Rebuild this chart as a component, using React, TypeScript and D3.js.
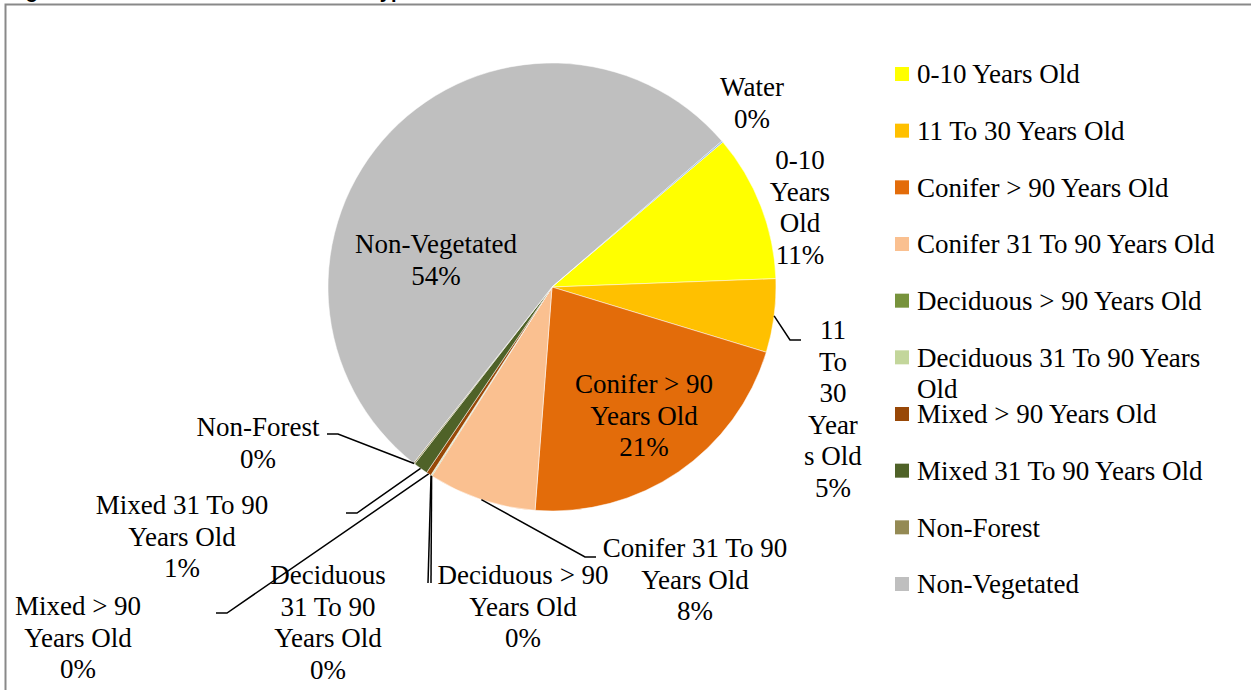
import { useEffect, useRef } from 'react';
import * as d3 from 'd3';

// Datos del gráfico (orden de las porciones, en sentido horario)
const categories = [
  '0-10 Years Old',
  '11 To 30 Years Old',
  'Conifer > 90 Years Old',
  'Conifer 31 To 90 Years Old',
  'Deciduous > 90 Years Old',
  'Deciduous 31 To 90 Years Old',
  'Mixed > 90 Years Old',
  'Mixed 31 To 90 Years Old',
  'Non-Forest',
  'Non-Vegetated',
  'Water',
];
const values = [10.6, 5.3, 21.5, 7.8, 0.05, 0.05, 0.35, 1.05, 0.1, 53.1, 0.1];
const percentLabels = ['11%', '5%', '21%', '8%', '0%', '0%', '0%', '1%', '0%', '54%', '0%'];
const colors = [
  '#FFFF00', '#FFC000', '#E36C0A', '#FAC090', '#77933C',
  '#C3D69B', '#984807', '#4F6228', '#948A54', '#BFBFBF', '#8DB3E2',
];
// Water no aparece en la leyenda
const legendItems = categories.slice(0, 10);
const legendLines = [
  ['0-10 Years Old'],
  ['11 To 30 Years Old'],
  ['Conifer > 90 Years Old'],
  ['Conifer 31 To 90 Years Old'],
  ['Deciduous > 90 Years Old'],
  ['Deciduous 31 To 90 Years', 'Old'],
  ['Mixed > 90 Years Old'],
  ['Mixed 31 To 90 Years Old'],
  ['Non-Forest'],
  ['Non-Vegetated'],
];

// Texto de las etiquetas (líneas, sin el porcentaje)
const labelLines = [
  ['0-10', 'Years', 'Old'],
  ['11', 'To', '30', 'Year', 's Old'],
  ['Conifer > 90', 'Years Old'],
  ['Conifer 31 To 90', 'Years Old'],
  ['Deciduous > 90', 'Years Old'],
  ['Deciduous', '31 To 90', 'Years Old'],
  ['Mixed > 90', 'Years Old'],
  ['Mixed 31 To 90', 'Years Old'],
  ['Non-Forest'],
  ['Non-Vegetated'],
  ['Water'],
];

// Posición de cada etiqueta relativa al centro del pastel, y codo de la línea guía
const labelLayout = [
  { dx: 248, dy: -127, elbow: null },
  { dx: 281, dy: 43, elbow: [238, 53, 249] },
  { dx: 92, dy: 97, elbow: null },
  { dx: 143, dy: 261, elbow: [33, 270, 44] },
  { dx: -29, dy: 288, elbow: [-121, 296, -121] },
  { dx: -224, dy: 288, elbow: [-124, 296, -124] },
  { dx: -474, dy: 319, elbow: [-325, 326, -336] },
  { dx: -370, dy: 218, elbow: [-195, 226, -206] },
  { dx: -294, dy: 140, elbow: [-214, 147, -225] },
  { dx: -116, dy: -43, elbow: null },
  { dx: 200, dy: -200, elbow: null },
];

const W = 1251;
const H = 690;
const FONT = '"Liberation Serif", "Times New Roman", serif';

const App = () => {
  const svgRef = useRef<SVGSVGElement>(null);

  useEffect(() => {
    document.body.style.margin = '0';

    const cx = 552;
    const cy = 287;
    const radius = 224;
    const lineH = 31.5;

    const svg = d3.select(svgRef.current).attr('width', W).attr('height', H);
    svg.selectAll('*').remove();

    svg.append('rect').attr('width', W).attr('height', H).attr('fill', '#fff');

    // Título cortado arriba
    svg.append('text')
      .attr('x', 8)
      .attr('y', -2)
      .style('font-family', '"Liberation Sans", Arial, sans-serif')
      .style('font-weight', 'bold')
      .style('font-size', '20px')
      .text('Figure 5: Distribution of Forest Cover Type');

    // Marco
    svg.append('path')
      .attr('d', `M5.5,${H} V4.5 H${W}`)
      .attr('fill', 'none')
      .attr('stroke', '#898989')
      .attr('stroke-width', 2);

    const g = svg.append('g').attr('transform', `translate(${cx},${cy})`);

    const startAngle = (49.7 * Math.PI) / 180;
    const pie = d3.pie<number>()
      .sort(null)
      .value(d => d)
      .startAngle(startAngle)
      .endAngle(startAngle + 2 * Math.PI);
    const arcs = pie(values);
    const arc = d3.arc<d3.PieArcDatum<number>>().innerRadius(0).outerRadius(radius);

    g.selectAll('path.slice')
      .data(arcs)
      .enter().append('path')
      .attr('class', 'slice')
      .attr('d', arc)
      .attr('fill', (d, i) => colors[i])
      .attr('stroke', '#fff')
      .attr('stroke-width', 0.5);

    // Líneas guía
    arcs.forEach((a, i) => {
      const lay = labelLayout[i];
      if (!lay.elbow) return;
      const mid = (a.startAngle + a.endAngle) / 2;
      const sx = radius * Math.sin(mid);
      const sy = -radius * Math.cos(mid);
      const [ex, ey, tx] = lay.elbow;
      g.append('path')
        .attr('d', d3.line()([[sx, sy], [ex, ey], [tx, ey]]))
        .attr('fill', 'none')
        .attr('stroke', '#000')
        .attr('stroke-width', 1.5);
    });

    // Etiquetas de datos
    arcs.forEach((a, i) => {
      const lay = labelLayout[i];
      const lines = [...labelLines[i], percentLabels[i]];
      const t = g.append('text')
        .attr('text-anchor', 'middle')
        .style('font-family', FONT)
        .style('font-size', '27px')
        .style('fill', '#000');
      lines.forEach((ln, k) => {
        t.append('tspan')
          .attr('x', lay.dx)
          .attr('y', lay.dy + k * lineH)
          .attr('dy', '0.35em')
          .text(ln);
      });
    });

    // Leyenda
    const legendY = d3.scalePoint<string>()
      .domain(legendItems)
      .range([74, 584]);

    const legend = svg.selectAll('.legend')
      .data(legendItems)
      .enter().append('g')
      .attr('class', 'legend')
      .attr('transform', d => `translate(895,${legendY(d)})`);

    legend.append('rect')
      .attr('x', 0)
      .attr('y', -7)
      .attr('width', 14)
      .attr('height', 14)
      .style('fill', (d, i) => colors[i]);

    legend.append('text')
      .style('font-family', FONT)
      .style('font-size', '27px')
      .style('fill', '#000')
      .each(function (d, i) {
        const sel = d3.select(this);
        legendLines[i].forEach((ln, k) => {
          sel.append('tspan')
            .attr('x', 22)
            .attr('y', k * lineH)
            .attr('dy', '0.35em')
            .text(ln);
        });
      });
  }, []);

  return <svg ref={svgRef} style={{ display: 'block' }}></svg>;
};

export default App;
